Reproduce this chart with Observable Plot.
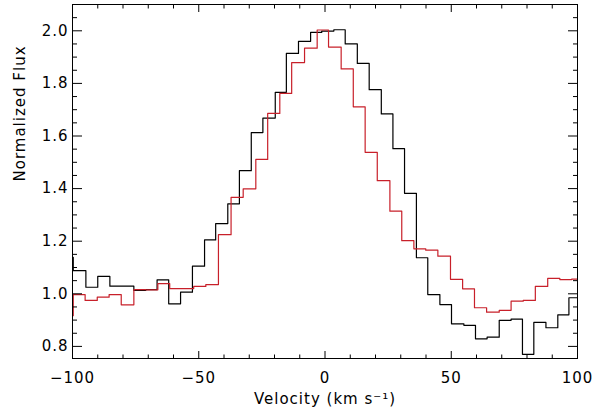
<!DOCTYPE html>
<html><head><meta charset="utf-8">
<script src="https://cdn.jsdelivr.net/npm/d3@7"></script>
<script src="https://cdn.jsdelivr.net/npm/@observablehq/plot@0.6"></script>
<style>body{margin:0;background:#fff} svg text{letter-spacing:1px}</style>
</head><body><div id="chart"></div>
<script>
// Black spectrum: left bin edges (km/s) and normalized flux
const blackV = [-104.4,-99.7,-94.7,-90.0,-85.2,-80.5,-75.7,-71.0,-66.5,-61.9,-57.2,-52.5,-47.7,-43.3,-38.5,-33.9,-29.2,-24.6,-19.7,-15.3,-10.5,-5.7,-1.3,3.5,8.0,12.8,17.5,22.3,26.9,31.5,36.2,40.7,45.5,50.1,55.0,59.6,64.2,69.0,73.7,78.2,82.7,87.5,92.2,96.6,101.2];
const blackF = [1.139,1.088,1.025,1.066,1.029,1.029,1.013,1.016,1.053,0.962,1.006,1.105,1.205,1.267,1.342,1.468,1.613,1.668,1.766,1.914,1.960,1.994,1.999,2.004,1.950,1.876,1.776,1.684,1.552,1.382,1.137,0.997,0.959,0.886,0.880,0.829,0.835,0.899,0.904,0.770,0.891,0.871,0.920,0.985,0.985];
// Red spectrum
const redV = [-104.5,-99.7,-95.0,-90.2,-85.5,-80.7,-75.7,-71.0,-66.2,-61.5,-56.7,-52.0,-47.2,-42.2,-37.2,-32.4,-27.4,-22.7,-17.9,-13.2,-8.1,-3.1,1.4,6.4,11.2,15.9,20.7,25.7,30.4,35.2,39.9,44.7,49.7,54.5,59.2,64.0,69.0,73.7,78.5,83.3,88.2,93.0,97.7,102.6];
const redF = [0.917,0.997,0.975,0.987,0.997,0.958,1.016,1.015,1.039,1.020,1.020,1.028,1.035,1.225,1.367,1.399,1.511,1.686,1.762,1.879,1.934,2.003,1.938,1.855,1.711,1.538,1.430,1.314,1.202,1.171,1.166,1.143,1.055,1.019,0.947,0.930,0.937,0.972,0.975,1.028,1.059,1.054,1.056,1.056];

const xTicks = [-100,-50,0,50,100];
const xTickLabels = ["−100","−50","0","50","100"];
const xMinor = [-90,-80,-70,-60,-40,-30,-20,-10,10,20,30,40,60,70,80,90];
const yTicks = [0.8,1.0,1.2,1.4,1.6,1.8,2.0];
const yTickLabels = ["0.8","1.0","1.2","1.4","1.6","1.8","2.0"];
const yMinor = [0.85,0.9,0.95,1.05,1.1,1.15,1.25,1.3,1.35,1.45,1.5,1.55,1.65,1.7,1.75,1.85,1.9,1.95,2.05];
const xTitle = "Velocity (km s⁻¹)";
const yTitle = "Normalized Flux";

const xLab = new Map(xTicks.map((t,i)=>[t,xTickLabels[i]]));
const yLab = new Map(yTicks.map((t,i)=>[t,yTickLabels[i]]));
const rows = (v,f) => v.map((x,i)=>({v:x, f:f[i]}));
const FS = 15;

const chart = Plot.plot({
  width: 593, height: 418,
  marginLeft: 72, marginRight: 16, marginTop: 4, marginBottom: 60,
  style: {fontFamily: "DejaVu Sans, sans-serif", fontSize: "15px", background: "#fff", color: "#000"},
  x: {domain: [-100, 100]},
  y: {domain: [0.754, 2.1]},
  marks: [
    Plot.line(rows(blackV, blackF), {x: "v", y: "f", curve: "step-after", stroke: "#000", strokeWidth: 1.2, clip: true}),
    Plot.line(rows(redV, redF), {x: "v", y: "f", curve: "step-after", stroke: "#c8202a", strokeWidth: 1.2, clip: true}),
    Plot.frame({stroke: "#000", strokeWidth: 1}),
    // inward ticks
    Plot.axisX(xTicks, {anchor: "bottom", tickSize: -7, fill: "none", label: null}),
    Plot.axisX(xMinor, {anchor: "bottom", tickSize: -3.5, fill: "none", label: null}),
    Plot.axisX(xTicks, {anchor: "top", tickSize: -7, fill: "none", label: null}),
    Plot.axisX(xMinor, {anchor: "top", tickSize: -3.5, fill: "none", label: null}),
    Plot.axisY(yTicks, {anchor: "left", tickSize: -10, fill: "none", label: null}),
    Plot.axisY(yMinor, {anchor: "left", tickSize: -5, fill: "none", label: null}),
    Plot.axisY(yTicks, {anchor: "right", tickSize: -10, fill: "none", label: null}),
    Plot.axisY(yMinor, {anchor: "right", tickSize: -5, fill: "none", label: null}),
    // tick labels
    Plot.axisX(xTicks, {anchor: "bottom", tickSize: 0, tickPadding: 14, fontSize: FS, tickFormat: d => xLab.get(d), label: null}),
    Plot.axisY(yTicks, {anchor: "left", tickSize: 0, tickPadding: 4, fontSize: FS, tickFormat: d => yLab.get(d), label: null}),
    // axis titles
    Plot.text([xTitle], {frameAnchor: "bottom", dy: 45, lineAnchor: "bottom", fontSize: FS, fill: "#000"}),
    Plot.text([yTitle], {frameAnchor: "left", dx: -58, rotate: -90, lineAnchor: "top", fontSize: FS, fill: "#000"})
  ]
});
document.getElementById("chart").appendChild(chart);
</script>
</body></html>
